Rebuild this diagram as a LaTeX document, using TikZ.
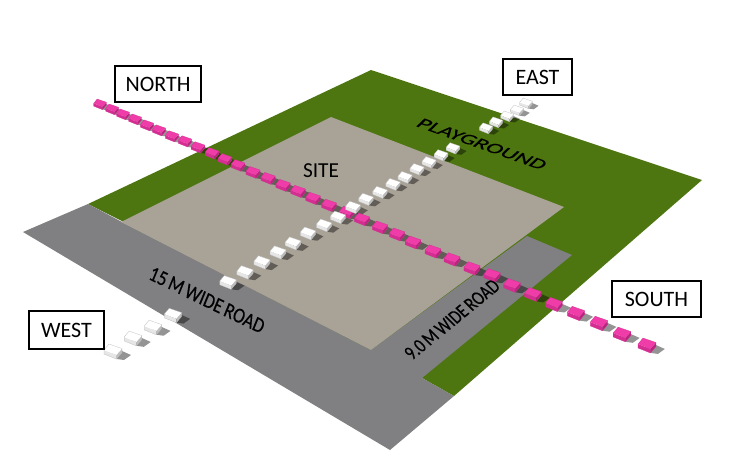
\documentclass[tikz,border=0pt]{standalone}
\usepackage{fontspec}
\setmainfont{Carlito}
\newfontfamily\planefont[FakeBold=0.35]{Carlito}
\definecolor{grn}{HTML}{4D7610}
\definecolor{rd}{HTML}{807F81}
\definecolor{st}{HTML}{A9A297}
\definecolor{pkt}{HTML}{F03CA8}
\definecolor{pks}{HTML}{D42E92}
\definecolor{pkd}{HTML}{B8247E}
\definecolor{wht}{HTML}{FFFFFF}
\definecolor{whs}{HTML}{E6E6E6}
\definecolor{whd}{HTML}{BDBDBD}
\tikzset{
  label box/.style={draw=black,line width=1.1pt,fill=white,inner sep=0pt,font=\fontsize{16.5}{18}\selectfont},
  plane text/.style={font=\planefont\fontsize{#1}{12}\selectfont,inner sep=0pt,transform shape},
}
\newcommand\blockshadow[2]{%
  \pgfmathsetmacro\sz{0.7+0.3*(#2-103)/248}%
  \begin{scope}[shift={(#1,#2)},scale=\sz]
    \fill[black,opacity=.42] (-3,3) -- (4,8) -- (11,9) -- (18,4) -- (9,0) -- cycle;
  \end{scope}}
\newcommand\blockbody[6]{%
  \pgfmathsetmacro\sz{0.7+0.3*(#2-103)/248}%
  \begin{scope}[shift={(#1,#2)},scale=\sz]
    \fill[#4] (-9,-1) -- (3.5,4) -- (3.5,8) -- (-9,3) -- cycle;
    \fill[#5] (3.5,4) -- (9,-2.5) -- (9,1.5) -- (3.5,8) -- cycle;
    \fill[#3] (-9,-1) -- (-4,-7) -- (9,-2.5) -- (3.5,4) -- cycle;
    \draw[#6,line width=.2pt] (-9,-1) -- (-4,-7) -- (9,-2.5) -- (9,1.5) -- (3.5,8) -- (-9,3) -- cycle;
  \end{scope}}
\begin{document}
\begin{tikzpicture}[x=0.75pt,y=-0.75pt]
\useasboundingbox (0,0) rectangle (753,465);
\fill[white] (0,0) rectangle (753,465);
% ground
\fill[grn] (371,70) -- (702,180) -- (454,396) -- (422,378) -- (120,220) -- (88,204) -- cycle;
\fill[rd] (23,232) -- (88,204) -- (122,222) -- (371,350) -- (527,236) -- (572,255) -- (422,378) -- (454,396) -- (390,450) -- cycle;
\fill[st] (331,117) -- (564,207) -- (371,350) -- (121,222) -- cycle;
% shadows
\foreach \x/\y in {100/104,112/109,123/114,135/119,147/125,159/130,172/136,185/141,198/147,212/153,225/159,238/165,253/172,268/178,283/185,298/191,313/198,329/205,347/212,362/219,380/227,397/234,413/242,433/251,452/259,472/268,492/275,512/285,533/294,554/304,576/313,599/323,622/334,647/345}{\blockshadow{\x}{\y}}
\foreach \x/\y in {113/351,133/338,153/327,173/315,228/282,245/272,262/262,278/252,293/243,308/233,324/225,338/217,353/207,366/199,380/192,393/184,405/177,417/169,429/162,441/155,453/148,486/128,496/122,507/116,517/110,526/103}{\blockshadow{\x}{\y}}
% pink row
\foreach \x/\y in {100/104,112/109,123/114,135/119,147/125,159/130,172/136,185/141,198/147,212/153,225/159,238/165,253/172,268/178,283/185,298/191,313/198,329/205,347/212,362/219,380/227,397/234,413/242,433/251,452/259,472/268,492/275,512/285,533/294,554/304,576/313,599/323,622/334,647/345}{\blockbody{\x}{\y}{pkt}{pks}{pkd}{pks}}
% white row
\foreach \x/\y in {526/103,517/110,507/116,496/122,486/128,453/148,441/155,429/162,417/169,405/177,393/184,380/192,366/199,353/207,338/217,324/225,308/233,293/243,278/252,262/262,245/272,228/282,173/315,153/327,133/338,113/351}{\blockbody{\x}{\y}{wht}{whs}{whd}{whd}}
% labels
\node[label box,minimum width=64.5pt,minimum height=27pt] (north) at (158,84) {NORTH};
\node[label box,minimum width=51.7pt,minimum height=27pt] (east) at (537.5,77) {EAST};
\node[label box,minimum width=66.7pt,minimum height=27pt] (south) at (656.5,299) {SOUTH};
\node[label box,minimum width=56.2pt,minimum height=28.5pt] (west) at (66.5,330) {WEST};
\node[inner sep=0pt,font=\fontsize{16}{18}\selectfont] (site) at (321,171) {SITE};
\begin{scope}[shift={(207,300)}]
  \node[plane text=16,cm={.76,-.37,.38,.92,(0,0)}] (road15) at (0,0) {15\,M\,WIDE\,ROAD};
\end{scope}
\begin{scope}[shift={(482,144)}]
  \node[plane text=14,cm={1.2,-.42,.68,.65,(0,0)}] (play) at (0,0) {PLAYGROUND};
\end{scope}
\begin{scope}[shift={(452,319.5)}]
  \node[plane text=14,cm={.66,.54,-.78,.78,(0,0)}] (road9) at (0,0) {9.0\,M\,WIDE\,ROAD};
\end{scope}
\end{tikzpicture}
\end{document}
